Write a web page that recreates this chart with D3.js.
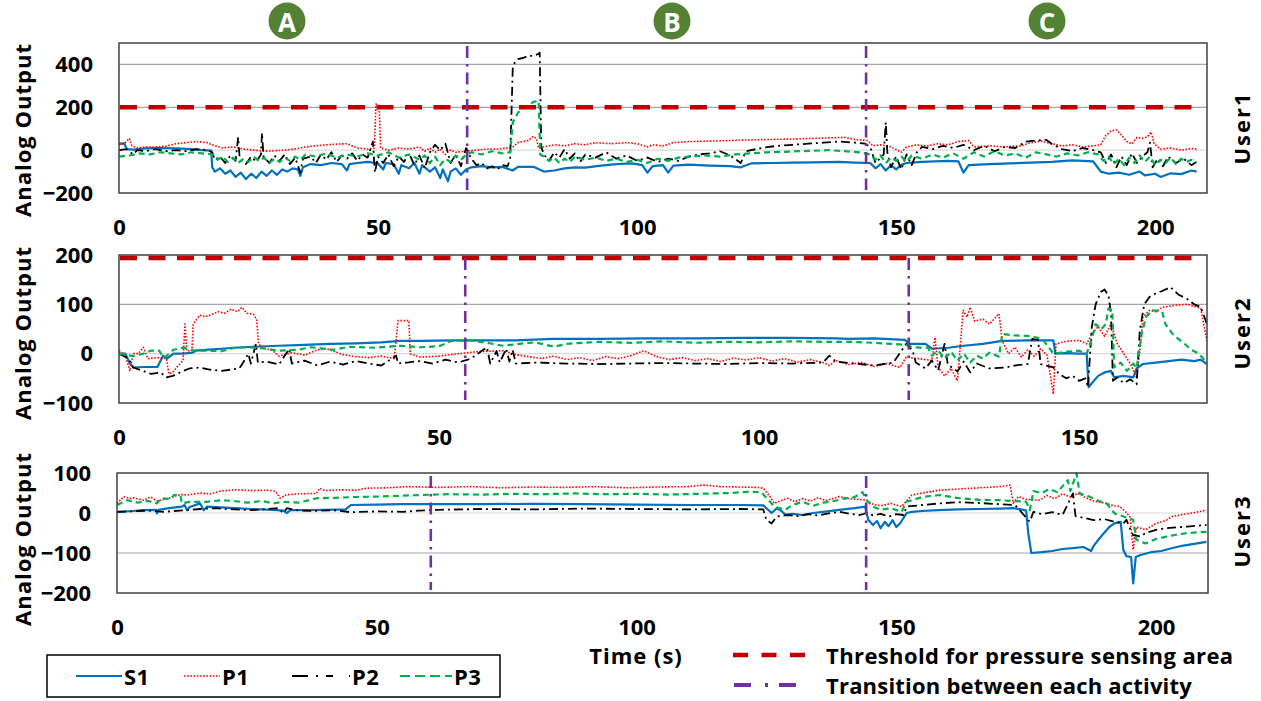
<!DOCTYPE html>
<html>
<head>
<meta charset="utf-8">
<script src="https://cdnjs.cloudflare.com/ajax/libs/d3/7.8.5/d3.min.js"></script>
<style>
  html, body { margin: 0; padding: 0; background: #fff; }
  svg text { font-family: "Open Sans", "Noto Sans", sans-serif; font-weight: 700; fill: #000; }
</style>
</head>
<body>
<div id="chart"></div>
<script>
// ---- data ----
const seriesNames = ['S1', 'P1', 'P2', 'P3'];
const activityLabels = ['A', 'B', 'C'];
const userLabels = ['User1', 'User2', 'User3'];
const thresholdValue = 200;

const u1Ticks = [-200, 0, 200, 400];
const u2Ticks = [-100, 0, 100, 200];
const u3Ticks = [-200, -100, 0, 100];
const u1TimeTicks = [0, 50, 100, 150, 200];
const u2TimeTicks = [0, 50, 100, 150];
const u3TimeTicks = [0, 50, 100, 150, 200];

const u1Transitions = [67.2, 144.2];
const u2Transitions = [54.1, 123.4];
const u3Transitions = [60.4, 144.2];

const u1S1 = [[0,30],[1,32],[1.5,5],[3,2],[5,8],[8,10],[11,8],[14,5],[16,0],[17.8,-2],[18,-80],[18.5,-100],[19.5,-85],[20.5,-110],[21.5,-95],[22.5,-125],[23.5,-105],[24.5,-135],[25.5,-110],[26.5,-130],[27.5,-100],[28.5,-120],[29.5,-95],[30.5,-115],[31.5,-90],[32.5,-100],[33.5,-85],[34.5,-90],[35,-120],[35.5,-80],[37,-65],[39,-70],[41,-60],[43,-65],[44,-95],[44.5,-65],[46,-60],[48,-55],[50,-62],[51,-90],[51.5,-60],[53,-65],[54,-110],[54.5,-70],[56,-85],[57,-60],[58,-110],[58.5,-70],[60,-100],[61,-80],[62,-130],[62.5,-90],[63.5,-145],[64,-100],[65,-85],[66,-115],[67,-90],[68,-80],[70,-75],[72,-80],[74,-78],[76,-95],[77,-78],[80,-78],[82,-100],[84,-95],[86,-85],[88,-80],[90,-82],[93,-72],[96,-65],[99,-62],[101,-70],[102,-105],[103,-75],[105,-70],[106,-105],[107,-72],[110,-68],[114,-72],[118,-75],[120,-80],[122,-62],[126,-60],[130,-58],[134,-57],[139,-55],[142,-58],[145,-60],[146,-85],[147,-65],[148,-95],[149,-70],[150,-90],[151,-68],[152,-60],[155,-55],[160,-50],[162,-52],[163,-105],[164,-70],[168,-65],[172,-62],[176,-58],[180,-55],[184,-48],[188,-52],[189.5,-100],[191,-110],[193,-105],[195,-115],[197,-100],[198,-118],[200,-110],[201,-125],[203,-108],[205,-112],[207,-95],[208,-100]];
const u1P1 = [[0,25],[1,30],[2,55],[2.5,20],[3.5,10],[5,15],[7,15],[9,18],[11,30],[13,35],[15,40],[17,35],[18.5,20],[20,10],[22,15],[24,5],[26,0],[28,-5],[30,-3],[32,0],[34,5],[36,15],[38,20],[40,25],[42,28],[44,30],[46,10],[48,5],[49.3,10],[49.6,215],[50.2,210],[50.5,10],[52,0],[54,10],[56,5],[58,15],[59,-5],[60,10],[61,-10],[62,5],[63,-20],[64,0],[65,-10],[67,-5],[69,0],[71,5],[73,5],[75,10],[76,15],[77,35],[78,40],[79,45],[80,65],[80.5,55],[81,10],[82,15],[84,25],[86,20],[88,30],[90,25],[92,35],[95,30],[98,35],[100,30],[102,15],[103,25],[105,20],[107,35],[110,40],[114,42],[118,45],[122,48],[126,50],[130,52],[134,55],[138,58],[140,60],[142,50],[144.5,45],[145.5,20],[147,25],[149,15],[151,-10],[152,15],[154,25],[156,20],[158,30],[160,25],[162,40],[164,45],[165,15],[168,20],[171,15],[174,20],[176,35],[178,42],[180,30],[182,20],[184,25],[186,15],[188,20],[189.5,25],[190.5,70],[191.5,90],[192.5,95],[193.5,70],[194.5,40],[195.5,30],[196.5,60],[197.5,55],[198.5,62],[199.2,85],[199.8,30],[201,5],[203,10],[205,0],[207,8],[208,5]];
const u1P2 = [[0,0],[1.5,5],[2.7,-20],[3.5,0],[5,-5],[7,5],[9,-5],[11,0],[13,-5],[15,5],[17,0],[18,-10],[18.5,-45],[19.5,-30],[20.5,-60],[21.5,-25],[22.5,-50],[23,60],[23.3,-40],[24.5,-65],[25.5,-30],[26.5,-55],[27.4,-20],[27.6,80],[27.9,-30],[29,-60],[30,-25],[31,-50],[32,-20],[33,-65],[34,-35],[35,-105],[35.5,-40],[37,-30],[38,-60],[39,-20],[40,-45],[41,-10],[42,-55],[43,-25],[44,-40],[45,-15],[46,-50],[47,-20],[48,-35],[49,40],[49.4,-105],[50,-30],[51,-60],[52,-20],[53,-75],[54,-30],[55,-55],[56,-15],[57,-70],[58,-25],[59,-85],[60,-10],[61,25],[62,0],[63,30],[64,-60],[65,-20],[66,-75],[67,10],[68,-40],[69,-70],[70,-60],[71,-85],[72,-75],[73,-90],[74,-70],[75,-75],[75.5,-40],[76,380],[76.4,410],[77,425],[78,430],[79,440],[80,440],[81,450],[81.2,455],[81.5,15],[82,-20],[83,-50],[84,-10],[85,-35],[86,5],[87,-40],[88,-15],[89,-55],[90,-20],[92,-35],[94,-10],[96,-40],[98,-25],[100,-50],[102,-35],[104,-55],[106,-40],[108,-50],[110,-30],[112,-20],[114,-15],[116,-5],[118,-25],[120,-60],[121,-5],[124,10],[127,20],[130,25],[133,30],[136,35],[139,40],[142,35],[144,30],[145,15],[146,-60],[147.6,-20],[148,130],[148.3,-10],[149,-80],[150,-30],[151,-90],[152,-20],[153,-70],[154,-10],[155,15],[157,5],[159,20],[161,10],[163,25],[165,0],[167,20],[169,-5],[171,15],[173,10],[175,40],[177,45],[179,48],[180,30],[182,5],[184,-5],[186,10],[188,0],[189.5,-10],[190.5,-60],[191.5,-20],[192.5,-80],[193.5,-30],[194.5,-70],[195.5,-15],[196.5,-60],[197.5,-30],[198.5,-10],[199,35],[199.5,-80],[200.5,-40],[201.5,-75],[202.5,-30],[204,-60],[205.5,-40],[207,-70],[208,-55]];
const u1P3 = [[0,-30],[2,-25],[4,-15],[6,-20],[8,-10],[10,-15],[12,-20],[14,-10],[16,-15],[18,-20],[19,-45],[20,-30],[21,-55],[22,-35],[23,-60],[24,-40],[25,-55],[26,-30],[27,-50],[28,-35],[29,-60],[30,-40],[31,-55],[32,-35],[33,-50],[34,-30],[35,-45],[36,-20],[38,-30],[40,-15],[42,-35],[44,-20],[46,-30],[48,-15],[50,-25],[52,-10],[54,-35],[56,-20],[58,-45],[59,-25],[60,-60],[61,-30],[62,-70],[63,-40],[64,-55],[65,-25],[66,-45],[67,-20],[68,-10],[70,-20],[72,-5],[74,-15],[75.5,-10],[76,130],[76.5,150],[77,175],[78,195],[79,210],[80,225],[81,230],[81.3,-20],[82,-30],[83,-50],[84,-35],[85,-60],[86,-40],[87,-55],[88,-30],[90,-45],[92,-35],[94,-50],[96,-40],[98,-55],[100,-45],[102,-60],[104,-40],[106,-50],[108,-35],[110,-30],[113,-25],[116,-30],[119,-20],[122,-15],[125,-10],[128,-8],[131,-5],[134,-3],[137,0],[140,-5],[143,-10],[145,-20],[146,-45],[147,-25],[148,-60],[149,-35],[150,-50],[151,-30],[152,-55],[153,-25],[155,-40],[157,-20],[159,-35],[161,-15],[163,-40],[165,-10],[167,-30],[169,-5],[171,-25],[173,-15],[175,-35],[177,-10],[179,-20],[181,-30],[183,-15],[185,-25],[187,-10],[189,-20],[190,-50],[191,-30],[192,-65],[193,-40],[194,-70],[195,-35],[196,-60],[197,-25],[198,-55],[199,-30],[200,-70],[201,-45],[202,-60],[203,-35],[204,-65],[205,-40],[206,-55],[207,-45],[208,-60]];

const u2S1 = [[0,0],[1,0],[1.7,-20],[2.3,-28],[4,-27],[6,-27],[6.9,-4],[7.5,-10],[8.5,0],[10,0],[11.5,2],[12,6],[14,8],[16,10],[18,12],[21,14],[25,16],[29,18],[33,20],[37,21],[41,23],[44,26],[47,26],[52,27],[57,27],[62,27],[67.8,30],[75,30],[82,31],[90,31],[98,32],[105,32],[112,31],[114,30],[118,31],[122.8,28],[123.5,20],[126,20],[127,10],[129.6,12],[132,16],[135,20],[138,26],[142,27],[146,27],[146.3,0],[148,1],[150,0],[151.2,0],[151.5,-68],[152,-60],[153,-45],[154,-38],[155,-35],[155.5,-48],[157,-45],[158.5,-48],[159,-30],[160,-21],[162,-18],[164,-15],[166,-12],[168,-15],[169,-12],[170,-21]];
const u2P1 = [[0,6],[1,-4],[1.7,-35],[2.2,0],[3,0],[3.8,13],[4.5,-10],[6,-8],[7.4,-10],[7.8,-41],[8.4,-38],[9,-28],[10,-14],[10.3,60],[10.6,6],[11.4,6],[11.6,60],[12.6,78],[13.5,75],[14.6,80],[15.5,85],[16.5,82],[17.5,90],[18.5,85],[19.2,94],[20,82],[21,80],[21.5,70],[21.8,20],[22.5,12],[24,6],[25,-5],[27,2],[29,-3],[31,8],[32.5,10],[33.5,5],[35,-2],[37,-6],[39,-8],[41,-5],[43,-10],[43.6,67],[45.3,67],[45.5,0],[47,-7],[50,-5],[53,0],[56,4],[60,6],[62,-2],[64,-6],[66,-10],[68,-5],[70,-12],[72,-8],[74,-14],[76,-6],[78,-10],[80,-4],[82,6],[84,-6],[86,-12],[88,-8],[90,-14],[92,-10],[94,-16],[96,-9],[98,-13],[100,-8],[102,-15],[104,-10],[106,-17],[108,-12],[110,-18],[111,-24],[112,-14],[114,-22],[116,-18],[118,-26],[120,-20],[122,-28],[123,-7],[125,-10],[127,-14],[127.5,33],[128,-28],[129,-45],[130,-30],[131,-55],[131.9,88],[132.5,74],[133,94],[133.7,66],[135,70],[136,60],[137.5,81],[138,26],[139,0],[140,13],[141,-7],[142,8],[143,-5],[144,10],[145,-3],[146,-82],[146.4,20],[148,25],[150,27],[151.2,20],[152,40],[153,55],[154,35],[155,60],[156,20],[157,0],[158,-20],[159,-48],[159.5,5],[160,74],[161,88],[162,85],[163,94],[165,98],[167,100],[169,92],[170,26]];
const u2P2 = [[0,0],[1.5,-10],[2.2,-28],[3.8,-35],[5,-41],[6.5,-38],[7.4,-48],[8.4,-45],[10,-35],[11,-30],[12.6,-28],[14,-32],[16,-35],[18.8,-30],[19.5,-16],[20.2,0],[20.6,-20],[21.4,20],[21.7,-18],[23,-16],[25,-22],[26.6,10],[27,-20],[29,-14],[31,-24],[33,-16],[35,-22],[37,-15],[39,-20],[41,-24],[43.3,-4],[43.6,-20],[45,-18],[47,-15],[49,-20],[51,-12],[53,-18],[55,-10],[57.5,13],[58,-20],[59,5],[59.5,-18],[60.5,10],[61,-16],[61.5,8],[62,-20],[65,-18],[70,-20],[75,-21],[80,-20],[85,-19],[90,-20],[95,-21],[100,-19],[105,-20],[110,-18],[111,-4],[112,-16],[115,-20],[118,-24],[121,-18],[123,20],[124,6],[124.5,-18],[126,-30],[127,-14],[128,-34],[129,20],[129.5,-22],[131,-36],[132,-16],[133,-38],[134,-20],[136,-30],[138.5,-28],[140,-24],[142,-21],[142.7,30],[143.6,28],[144,-21],[146,-28],[147,-42],[148,-50],[149,-45],[150,-55],[151,-50],[151.4,-68],[152,54],[152.6,100],[153.4,125],[154,130],[154.6,118],[155,81],[155.3,-55],[156,-48],[157,-60],[158,-52],[159,-62],[159.5,47],[160.2,100],[161,115],[162,122],[163,127],[164.3,135],[165.5,120],[167,110],[168,100],[169,95],[170,60]];
const u2P3 = [[0,0],[2.2,-5],[3.8,0],[5,6],[6.3,6],[6.9,-8],[7.4,-5],[8.5,8],[10,12],[12,6],[14,6],[16,5],[18,12],[20,13],[23,10],[25,6],[28,8],[30,13],[33.5,8],[36,14],[40,12],[44,16],[47,13],[50,15],[52,26],[55,27],[57.5,22],[60,16],[62.6,20],[65,23],[68,14],[70,20],[75,24],[80,22],[85,25],[90,22],[95,24],[100,23],[105,25],[110,24],[114,24],[118,22],[123,18],[124,13],[126.4,12],[127,-4],[128,6],[129,-10],[130,4],[131,-14],[132,0],[133,-18],[134,-4],[135,-10],[136,2],[137.5,-6],[138,40],[140,37],[142,36],[143.6,32],[144.5,26],[146,0],[148,4],[150,6],[151.2,0],[152,30],[152.6,60],[153.5,50],[154.2,60],[154.6,92],[155.2,88],[155.5,-28],[156.5,-18],[157.5,-35],[158.5,-20],[159,-30],[159.8,40],[160.5,75],[161.5,88],[163,85],[163.5,60],[164.5,42],[165.5,30],[166.5,20],[167.5,8],[168.5,2],[169.3,-8],[170,-20]];

const u3S1 = [[0,3],[3,5],[5,7],[7.5,8],[7.7,-1],[8,8],[10,12],[12.5,16],[13,20],[13.5,7],[14,15],[16,24],[16.7,7],[17.3,16],[20,14],[22.5,12],[26,10],[30,8],[32,6],[32.7,0],[33.4,7],[36,7],[40,8],[44,9],[45,20],[50,21],[55,22],[60,22],[70,22],[80,23],[90,22],[100,21],[110,20],[120,20],[124.4,19],[125,12],[126,0],[127,12],[128,4],[128.6,-4],[130,-2],[132,-5],[134,0],[136,3],[139,8],[142,12],[144,16],[144.6,-17],[145.5,-30],[146.3,-20],[147,-38],[147.8,-22],[148.5,-33],[149.3,-18],[150,-35],[150.8,-25],[151.4,-12],[152,0],[153,3],[155,5],[158,7],[162,9],[166,10],[170,11],[172.5,12],[174,9],[175,6],[175.4,-51],[176,-100],[178,-98],[180,-95],[182,-90],[184,-88],[186,-85],[187.5,-95],[188,-82],[189,-65],[190,-50],[191,-35],[192,-26],[193.2,-22],[193.7,-92],[194.3,-108],[195.2,-110],[195.6,-176],[196.1,-110],[197,-105],[199,-98],[201,-95],[203,-88],[205,-82],[207,-78],[209.7,-72]];
const u3P1 = [[0,24],[1.3,41],[2.5,36],[3.2,38],[5,32],[6.5,40],[7.7,30],[9.6,35],[11,42],[12.5,46],[13.5,45],[16,50],[18,48],[20,55],[23,58],[26,56],[29,57],[30.5,54],[31.4,37],[32.5,45],[35,48],[38.4,49],[39,62],[40,56],[43,58],[46,57],[48,62],[52,63],[56,66],[62,64],[68,66],[74,63],[80,65],[86,64],[92,66],[98,63],[104,65],[110,66],[113,70],[116,66],[120,65],[123,64],[124.4,62],[125.7,41],[126.5,24],[127.6,30],[129,37],[130.5,28],[132,36],[133.5,30],[135,38],[136.5,31],[139,41],[141,36],[144.3,32],[145.5,22],[147,18],[149,24],[151,16],[153,45],[155,50],[158.4,57],[162,60],[166,63],[170,66],[171.9,70],[172.5,25],[173.5,41],[175,34],[177.6,32],[179,44],[180.5,36],[182,48],[183.5,40],[185,49],[186.5,38],[188,30],[190,25],[192,18],[193,16],[194,5],[195,-10],[195.6,-92],[196.2,-35],[198,-42],[200,-26],[202,-18],[203,-9],[205,-4],[207,0],[209.7,7]];
const u3P2 = [[0,3],[3,4],[6,6],[9,3],[12,6],[16,10],[19,12],[22.5,9],[26,7],[29,10],[31,12],[32,0],[32.7,12],[35,6],[38,5],[41.7,7],[45,2],[50,4],[55,3],[58,6],[62,8],[70,10],[80,9],[90,11],[100,10],[110,9],[120,10],[124.4,9],[125,-17],[126,-26],[127,-9],[129,-5],[131,-8],[133,-3],[135,-6],[137,-1],[139,3],[141,-2],[143,-5],[144.3,0],[145.5,-6],[147,-2],[148.5,-9],[150,-3],[151.4,-5],[152,16],[155,20],[158.4,24],[162,27],[166,25],[170,22],[172.5,20],[173,18],[175.7,-22],[176.4,3],[178,-3],[180,2],[182,-5],[184,49],[184.5,-8],[186,-12],[188,-18],[190,-15],[192,-22],[193.7,-26],[194.3,-17],[195,-40],[195.6,-55],[197,-59],[198,-50],[200,-42],[202,-38],[204,-36],[206,-34],[209.7,-30]];
const u3P3 = [[0,20],[2,32],[4,26],[6,30],[7.7,24],[8.5,37],[10.3,35],[11,45],[12.2,44],[12.5,24],[14,28],[17.3,28],[20,32],[22.5,30],[25,26],[28,30],[30,24],[32,28],[35,26],[38.5,37],[42,38],[46,40],[50,41],[54,43],[58.3,45],[64,47],[70,46],[76,48],[82,47],[88,49],[94,47],[100,48],[106,46],[112,48],[118,50],[121.5,53],[124,52],[125.7,28],[126.5,16],[128.6,8],[130,20],[132,28],[134,18],[136,26],[138,30],[140,36],[142,40],[143.5,52],[144.3,32],[145.5,16],[147,8],[149,12],[151,3],[152,28],[155,40],[158.4,45],[162,37],[166,33],[170,32],[175,28],[175.7,7],[176.4,55],[178,50],[179.5,60],[181,52],[183,82],[183.5,55],[184.7,99],[185.3,49],[187,42],[189,30],[190.5,24],[192,-1],[194,-10],[195.6,-17],[196.2,-67],[198,-76],[200,-65],[202,-59],[204,-54],[206,-50],[209.7,-47]];

// ---- layout / styles ----
const W = 1261, H = 701;
const seriesStyle = {
  S1: { color: '#0070C0', width: 2.2, dash: null },
  P1: { color: '#FF0000', width: 1.6, dash: '1.6,1.6' },
  P2: { color: '#000000', width: 1.8, dash: '9,4,2,4' },
  P3: { color: '#00B050', width: 2.2, dash: '6,4' }
};
const panels = [
  { box: [119, 43, 1207, 193], xMax: 210, yDom: [-200, 500], yTicks: u1Ticks, xTicks: u1TimeTicks,
    trans: u1Transitions, threshold: true, data: [u1S1, u1P1, u1P2, u1P3], user: userLabels[0], userY: 128, titleY: 130 },
  { box: [119, 255, 1207, 403], xMax: 170, yDom: [-100, 200], yTicks: u2Ticks, xTicks: u2TimeTicks,
    trans: u2Transitions, threshold: true, data: [u2S1, u2P1, u2P2, u2P3], user: userLabels[1], userY: 333, titleY: 333 },
  { box: [117, 473, 1208, 593], xMax: 210, yDom: [-200, 100], yTicks: u3Ticks, xTicks: u3TimeTicks,
    trans: u3Transitions, threshold: false, data: [u3S1, u3P1, u3P2, u3P3], user: userLabels[2], userY: 531, titleY: 539 }
];

const svg = d3.select('#chart').append('svg')
  .attr('width', W).attr('height', H);

panels.forEach((p, pi) => {
  const [x0, y0, x1, y1] = p.box;
  const x = d3.scaleLinear().domain([0, p.xMax]).range([x0, x1]);
  const y = d3.scaleLinear().domain(p.yDom).range([y1, y0]);
  const g = svg.append('g');
  const clipId = 'clip' + pi;

  svg.append('clipPath').attr('id', clipId)
    .append('rect').attr('x', x0).attr('y', y0 - 2).attr('width', x1 - x0).attr('height', y1 - y0 + 4);

  // gridlines
  g.selectAll('.grid')
    .data(p.yTicks.filter(v => v > p.yDom[0] && v < p.yDom[1]))
    .enter().append('line')
    .attr('x1', x0).attr('x2', x1)
    .attr('y1', d => y(d)).attr('y2', d => y(d))
    .attr('stroke', d => d === 0 ? '#d9d9d9' : '#a6a6a6')
    .attr('stroke-width', 1.2);

  // y axis
  const ya = g.append('g')
    .attr('transform', `translate(${x0},0)`)
    .call(d3.axisLeft(y).tickValues(p.yTicks).tickSize(0).tickPadding(26));
  ya.select('.domain').remove();
  ya.selectAll('text').style('font-size', '22px').style('font-family', null);

  // x axis (labels only)
  const xa = g.append('g')
    .attr('transform', `translate(0,${y1})`)
    .call(d3.axisBottom(x).tickValues(p.xTicks).tickSize(0).tickPadding(26));
  xa.select('.domain').remove();
  xa.selectAll('text').style('font-size', '22px').style('font-family', null);

  // series
  const line = d3.line().x(d => x(d[0])).y(d => y(d[1]));
  const lines = g.append('g').attr('clip-path', `url(#${clipId})`);
  p.data.forEach((arr, si) => {
    const st = seriesStyle[seriesNames[si]];
    lines.append('path')
      .datum(arr)
      .attr('d', line)
      .attr('fill', 'none')
      .attr('stroke', st.color)
      .attr('stroke-width', st.width)
      .attr('stroke-dasharray', st.dash)
      .attr('stroke-linejoin', 'round');
  });

  // threshold
  if (p.threshold) {
    g.append('line')
      .attr('x1', x0 + 1).attr('x2', x1 - 12)
      .attr('y1', y(thresholdValue) + (pi === 1 ? 3 : 0)).attr('y2', y(thresholdValue) + (pi === 1 ? 3 : 0))
      .attr('stroke', '#C00000').attr('stroke-width', 4.5)
      .attr('stroke-dasharray', '17,11.5');
  }

  // transitions
  g.selectAll('.trans')
    .data(p.trans)
    .enter().append('line')
    .attr('x1', d => x(d)).attr('x2', d => x(d))
    .attr('y1', y0 + 3).attr('y2', y1 - 3)
    .attr('stroke', '#7030A0').attr('stroke-width', 2.6)
    .attr('stroke-dasharray', '12,6,2.5,6');

  // frame
  g.append('rect')
    .attr('x', x0).attr('y', y0).attr('width', x1 - x0).attr('height', y1 - y0)
    .attr('fill', 'none').attr('stroke', '#404040').attr('stroke-width', 1.5);

  // titles
  g.append('text')
    .attr('transform', `translate(22,${p.titleY}) rotate(-90)`)
    .attr('text-anchor', 'middle').attr('dominant-baseline', 'central')
    .style('font-size', '22px').style('letter-spacing', '1px')
    .text('Analog Output');

  g.append('text')
    .attr('transform', `translate(1241,${p.userY}) rotate(-90)`)
    .attr('text-anchor', 'middle').attr('dominant-baseline', 'central')
    .style('font-size', '22px').style('letter-spacing', '2px')
    .text(p.user);
});

// activity markers
const markerX = [287, 672, 1047];
activityLabels.forEach((lab, i) => {
  svg.append('circle').attr('cx', markerX[i]).attr('cy', 21).attr('r', 18.5).attr('fill', '#548235');
  svg.append('text').attr('x', markerX[i]).attr('y', 22)
    .attr('text-anchor', 'middle').attr('dominant-baseline', 'central')
    .style('font-size', '26px').style('fill', '#fff')
    .text(lab);
});

// x title
svg.append('text').attr('x', 636).attr('y', 655)
  .attr('text-anchor', 'middle').attr('dominant-baseline', 'central')
  .style('font-size', '22px').style('letter-spacing', '1px').text('Time (s)');

// series legend
const leg = svg.append('g');
leg.append('rect').attr('x', 47).attr('y', 655).attr('width', 453).attr('height', 42)
  .attr('fill', '#fff').attr('stroke', '#000').attr('stroke-width', 1.5);
const legX = [76, 184, 292, 400];
const legLen = [46, 36, 58, 52];
seriesNames.forEach((name, i) => {
  const st = seriesStyle[name];
  leg.append('line')
    .attr('x1', legX[i]).attr('x2', legX[i] + legLen[i])
    .attr('y1', 676).attr('y2', 676)
    .attr('stroke', st.color).attr('stroke-width', st.width)
    .attr('stroke-dasharray', name === 'P2' ? '16,8,2,8,7' : (name === 'P3' ? '10,5' : st.dash));
  leg.append('text').attr('x', legX[i] + legLen[i] + 2).attr('y', 676)
    .attr('dominant-baseline', 'central')
    .style('font-size', '22px').style('letter-spacing', '0.5px').text(name);
});

// reference line legend
svg.append('line').attr('x1', 733).attr('x2', 806).attr('y1', 655).attr('y2', 655)
  .attr('stroke', '#C00000').attr('stroke-width', 4.5).attr('stroke-dasharray', '15,13.5');
svg.append('text').attr('x', 826).attr('y', 655).attr('dominant-baseline', 'central')
  .style('font-size', '22px').style('letter-spacing', '0.4px').text('Threshold for pressure sensing area');
svg.append('line').attr('x1', 734).attr('x2', 796).attr('y1', 685).attr('y2', 685)
  .attr('stroke', '#7030A0').attr('stroke-width', 4).attr('stroke-dasharray', '17,14,3,11');
svg.append('text').attr('x', 826).attr('y', 685).attr('dominant-baseline', 'central')
  .style('font-size', '22px').style('letter-spacing', '0.2px').text('Transition between each activity');
</script>
</body>
</html>
